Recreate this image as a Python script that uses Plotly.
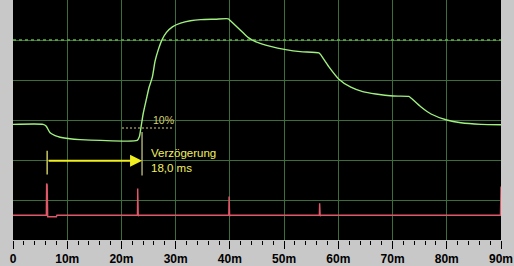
import plotly.graph_objects as go

# ---- data ----
# time axis in ms, vertical in screen divisions (0..6)
green_t = [0, 5.55, 6.1, 6.84, 7.76, 8.69, 10.5, 12.4, 16.1, 22.9, 23.3, 23.7, 24.0, 24.6,
           25.1, 25.7, 26.2, 26.8, 27.5, 28.3, 29.4, 30.9, 32.7, 34.6, 37.3, 39.7, 40.1,
           42.0, 43.4, 44.7, 47.5, 50.3, 53.0, 56.4, 56.7, 58.2, 60.1, 62.3, 64.5, 66.9,
           70.1, 73.0, 73.4, 75.2, 77.1, 80.0, 82.6, 86.3, 90.0]
green_v = [2.89, 2.89, 2.85, 2.68, 2.61, 2.57, 2.53, 2.51, 2.49, 2.49, 2.58, 2.90, 3.15, 3.52,
           3.82, 4.07, 4.47, 4.76, 5.01, 5.19, 5.33, 5.42, 5.48, 5.51, 5.52, 5.53, 5.48,
           5.24, 5.06, 4.96, 4.84, 4.76, 4.71, 4.68, 4.64, 4.34, 4.02, 3.82, 3.71, 3.65,
           3.60, 3.59, 3.55, 3.33, 3.15, 3.00, 2.93, 2.89, 2.88]

red_t = [0, 6.15, 6.2, 6.3, 6.4, 6.5, 8.0, 8.1, 22.95, 23.0, 23.1, 23.2, 39.8, 39.85, 39.95, 40.05,
         56.5, 56.55, 56.65, 56.75, 89.9, 89.95, 90.0]
red_v = [0.62, 0.62, 1.41, 1.38, 0.58, 0.58, 0.58, 0.62, 0.62, 1.29, 0.6, 0.62, 0.62, 1.09, 0.6, 0.62,
         0.62, 0.92, 0.6, 0.62, 0.62, 1.34, 1.34]

ref_level = 5.0                      # dashed reference line
ten_pct_level = 2.80                 # 10 % threshold
ten_pct_t = [20.1, 29.4]
marker_start = 6.3                   # delay start (ms)
marker_end = 23.8                    # delay end (ms)
marker1_v = [2.23, 1.64]
marker2_v = [2.70, 1.61]
arrow_level = 1.98
delay_label = "Verzögerung<br>18,0 ms"
pct_label = "10%"

tick_vals = [0, 10, 20, 30, 40, 50, 60, 70, 80, 90]
tick_text = ["0", "10m", "20m", "30m", "40m", "50m", "60m", "70m", "80m", "90m"]

# ---- figure ----
fig = go.Figure()

fig.add_trace(go.Scatter(x=[0, 90], y=[ref_level, ref_level], mode="lines",
                         line=dict(color="#58b83c", width=1.3, dash="3px,3px"),
                         hoverinfo="skip", showlegend=False))
fig.add_trace(go.Scatter(x=ten_pct_t, y=[ten_pct_level, ten_pct_level], mode="lines",
                         line=dict(color="#d8d080", width=1, dash="2px,2px"),
                         hoverinfo="skip", showlegend=False))
fig.add_trace(go.Scatter(x=[marker_start, marker_start], y=marker1_v, mode="lines",
                         line=dict(color="#c8c860", width=1.5), showlegend=False))
fig.add_trace(go.Scatter(x=[marker_end, marker_end], y=marker2_v, mode="lines",
                         line=dict(color="#a8a870", width=1.5), showlegend=False))
fig.add_trace(go.Scatter(x=red_t, y=red_v, mode="lines",
                         line=dict(color="#e05868", width=1.4), showlegend=False))
fig.add_trace(go.Scatter(x=green_t, y=green_v, mode="lines", line_shape="spline",
                         line=dict(color="#a0f080", width=1.4, smoothing=0.6), showlegend=False))

fig.add_annotation(x=marker_end, y=arrow_level, ax=marker_start, ay=arrow_level,
                   xref="x", yref="y", axref="x", ayref="y", text="",
                   showarrow=True, arrowhead=2, arrowsize=1.2, arrowwidth=2,
                   arrowcolor="#f0f020")
fig.add_annotation(x=25.1, y=arrow_level, xref="x", yref="y", text=delay_label,
                   showarrow=False, xanchor="left", yanchor="middle", align="left",
                   font=dict(family="Liberation Sans, Arial", size=11.5, color="#f0f060"))
fig.add_annotation(x=27.7, y=3.0, xref="x", yref="y", text=pct_label,
                   showarrow=False, xanchor="center", yanchor="middle",
                   font=dict(family="Liberation Sans, Arial", size=10.5, color="#d8d070"))

fig.update_layout(
    width=514, height=266,
    margin=dict(l=13, r=13, t=0, b=24),
    paper_bgcolor="#c8c8c8", plot_bgcolor="#000000",
    xaxis=dict(range=[0, 90], tickvals=tick_vals, ticktext=tick_text,
               showgrid=True, gridcolor="#3c6e3c", gridwidth=1, zeroline=False,
               ticks="outside", ticklen=8, tickcolor="#000000", tickwidth=1,
               tickfont=dict(family="Liberation Sans, Arial", size=12, color="#000000",
                             weight="bold"),
               minor=dict(dtick=2, ticks="outside", ticklen=4, tickcolor="#000000",
                          showgrid=False),
               showline=False, fixedrange=True),
    yaxis=dict(range=[0, 6], dtick=1, showgrid=True, gridcolor="#3c6e3c", gridwidth=1,
               zeroline=False, showticklabels=False, ticks="", showline=False),
    showlegend=False,
)

fig.write_html("out.html")
